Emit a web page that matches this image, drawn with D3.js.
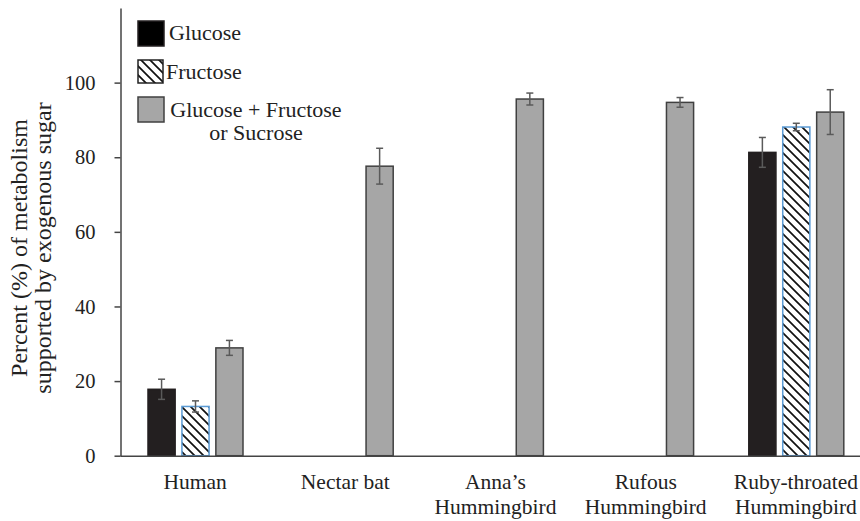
<!DOCTYPE html>
<html><head><meta charset="utf-8">
<script src="https://cdn.jsdelivr.net/npm/d3@7"></script>
<style>body{margin:0;background:#fff}svg{display:block}svg text{font-family:'Liberation Serif','Times New Roman',Times,'DejaVu Serif',serif !important;fill:#222}</style>
</head><body><svg id="c" width="860" height="521"></svg>
<script>
const categories = [["Human"], ["Nectar bat"], ["Anna’s", "Hummingbird"], ["Rufous", "Hummingbird"], ["Ruby-throated", "Hummingbird"]];
const seriesNames = ["Glucose", "Fructose", "Glucose + Fructose or Sucrose"];
const glucose = [17.8, null, null, null, 81.3];
const glucoseErr = [2.7, null, null, null, 4.0];
const fructose = [13.2, null, null, null, 88.1];
const fructoseErr = [1.5, null, null, null, 1.0];
const mixed = [28.9, 77.6, 95.6, 94.7, 92.1];
const mixedErr = [2.0, 4.8, 1.6, 1.3, 6.0];
const yTicks = [0, 20, 40, 60, 80, 100];

const svg = d3.select("#c");
const defs = svg.append("defs");
const pat = defs.append("pattern").attr("id","hatch").attr("patternUnits","userSpaceOnUse")
  .attr("width",9).attr("height",9);
pat.append("rect").attr("width",9).attr("height",9).attr("fill","#fff");
pat.append("path").attr("d","M-1,-1L10,10M-4.5,4.5L4.5,13.5M4.5,-4.5L13.5,4.5").attr("stroke","#111").attr("stroke-width",1.7);

const x0 = d3.scaleBand().domain(d3.range(categories.length)).range([120, 871]).padding(0);
const x1 = d3.scaleBand().domain([0,1,2]).range([28, 123]).paddingInner(0.2).paddingOuter(0);
const y = d3.scaleLinear().domain([0, 120]).range([455.7, 8]);

const fills = ["#231f20", "url(#hatch)", "#a6a6a6"];
const strokes = ["#231f20", "#5b9bd5", "#404040"];
const vals = [glucose, fructose, mixed];
const errs = [glucoseErr, fructoseErr, mixedErr];

vals.forEach((arr, s) => {
  arr.forEach((v, i) => {
    if (v == null) return;
    svg.append("rect")
      .attr("x", x0(i) + x1(s)).attr("y", y(v))
      .attr("width", x1.bandwidth()).attr("height", y(0) - y(v))
      .attr("fill", fills[s]).attr("stroke", strokes[s]).attr("stroke-width", 1.5);
  });
});
vals.forEach((arr, s) => {
  arr.forEach((v, i) => {
    if (v == null) return;
    const e = errs[s][i];
    const cx = x0(i) + x1(s) + x1.bandwidth() / 2;
    const g = svg.append("g").attr("stroke", "#5a5a5a").attr("stroke-width", 1.5);
    g.append("line").attr("x1", cx).attr("x2", cx).attr("y1", y(v + e)).attr("y2", y(v - e));
    g.append("line").attr("x1", cx - 3.5).attr("x2", cx + 3.5).attr("y1", y(v + e)).attr("y2", y(v + e));
    g.append("line").attr("x1", cx - 3.5).attr("x2", cx + 3.5).attr("y1", y(v - e)).attr("y2", y(v - e));
  });
});

const yAxis = d3.axisLeft(y).tickValues(yTicks).tickSize(6).tickPadding(19).tickSizeOuter(0);
const gy = svg.append("g").attr("transform", "translate(120.5,0)").call(yAxis).attr("font-family", null);
gy.select(".domain").attr("stroke", "#444").attr("stroke-width", 1.5);
gy.selectAll(".tick line").attr("stroke", "#444").attr("stroke-width", 1.5);
gy.selectAll(".tick text").attr("font-size", 20.5).attr("fill", "#222");

const xAxis = d3.axisBottom(x0).tickSize(0).tickFormat("");
const gx = svg.append("g").attr("transform", `translate(0,${y(0)})`).call(xAxis);
gx.select(".domain").attr("stroke", "#444").attr("stroke-width", 1.5);
categories.forEach((lines, i) => {
  const t = svg.append("text").attr("text-anchor", "middle").attr("font-size", 21.5)
    .attr("x", x0(i) + x0.bandwidth() / 2).attr("y", 489);
  lines.forEach((l, k) => t.append("tspan").attr("x", x0(i) + x0.bandwidth() / 2).attr("dy", k ? 25 : 0).text(l));
});

const yt = svg.append("text").attr("text-anchor", "middle").attr("font-size", 24)
  .attr("transform", "translate(27,248) rotate(-90)");
yt.append("tspan").attr("x", 0).attr("dy", 0).text("Percent (%) of metabolism");
yt.append("tspan").attr("x", 0).attr("dy", 24).text("supported by exogenous sugar");

const leg = [{y: 21, h: 25, w: 26}, {y: 60, h: 23, w: 25}, {y: 97, h: 25, w: 26}];
leg.forEach((b, s) => {
  svg.append("rect").attr("x", 138).attr("y", b.y).attr("width", b.w).attr("height", b.h)
    .attr("fill", s === 1 ? "url(#hatch)" : (s === 0 ? "#000" : fills[s]))
    .attr("stroke", s === 1 ? "#222" : strokes[s]).attr("stroke-width", 1.5);
});
svg.append("text").attr("x", 169).attr("y", 40).attr("font-size", 22).text(seriesNames[0]);
svg.append("text").attr("x", 166).attr("y", 79).attr("font-size", 22).text(seriesNames[1]);
const l3 = svg.append("text").attr("text-anchor", "middle").attr("font-size", 22).attr("y", 117);
l3.append("tspan").attr("x", 256).text("Glucose + Fructose");
l3.append("tspan").attr("x", 256).attr("dy", 23).text("or Sucrose");
</script></body></html>
